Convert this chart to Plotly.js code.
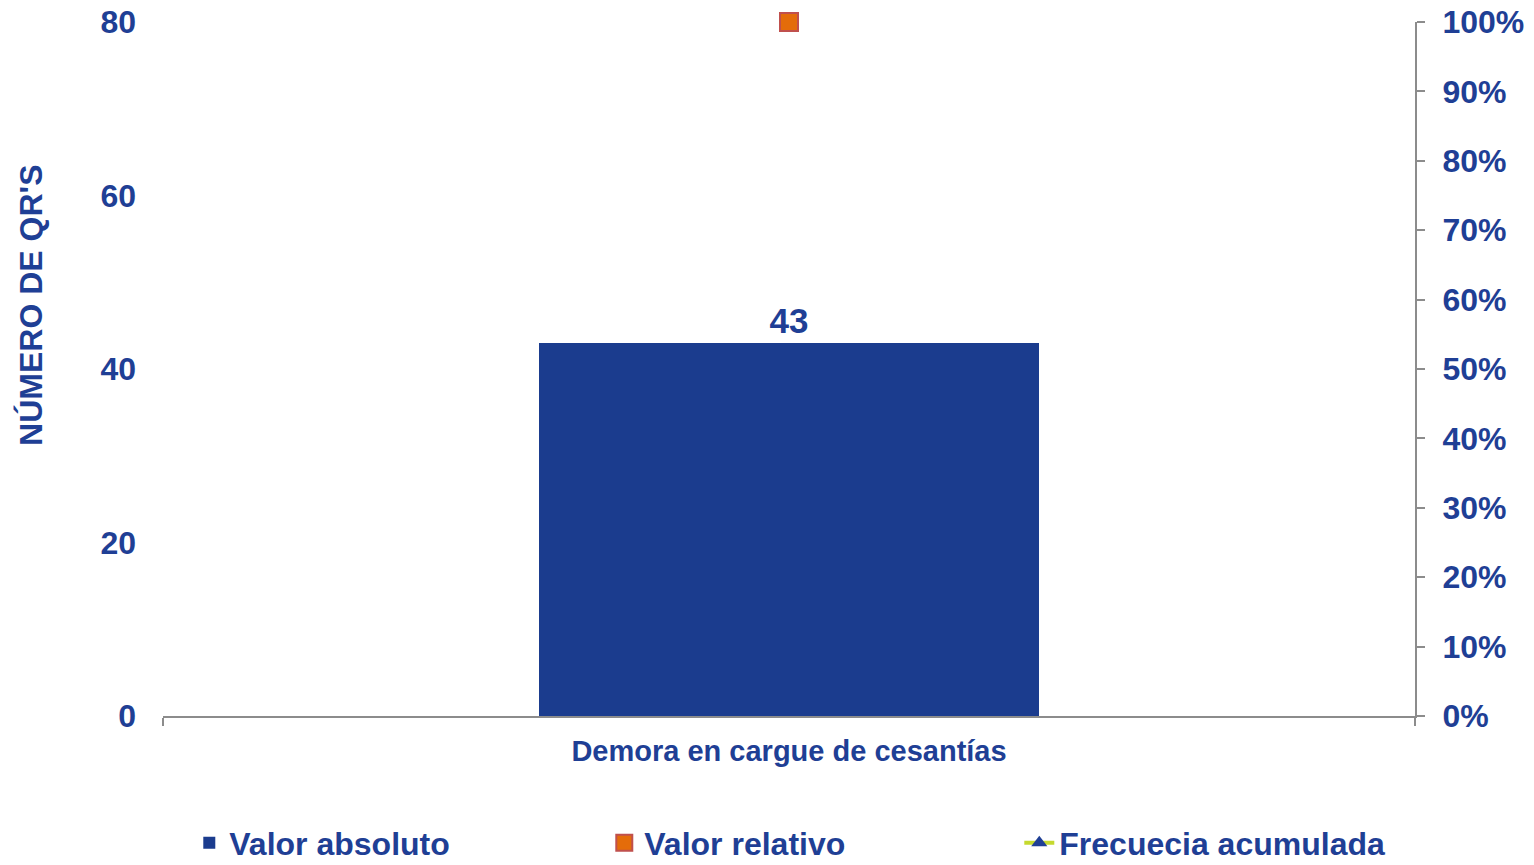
<!DOCTYPE html>
<html>
<head>
<meta charset="utf-8">
<script src="https://cdn.plot.ly/plotly-3.0.1.min.js"></script>
<style>html,body{margin:0;padding:0;background:#fff;}#chart{width:1534px;height:865px;}</style>
</head>
<body>
<div id="chart"></div>
<script>
const categories = ['Demora en cargue de cesantías'];
const valorAbsoluto = [43];
const valorRelativo = [1.0];
const frecuenciaAcumulada = [1.0];
const leftTicks = [0, 20, 40, 60, 80];
const yTitle = "NÚMERO DE QR'S";

const navy = '#1B3C8E';
const textBlue = '#1F3F95';
const font = 'Liberation Sans, Arial, sans-serif';

const traces = [
  {
    type: 'bar', name: 'Valor absoluto', x: categories, y: valorAbsoluto,
    marker: {color: navy}, width: 0.4,
    text: valorAbsoluto.map(String), textposition: 'outside', cliponaxis: false,
    textfont: {family: font, size: 35, color: textBlue, weight: 'bold'},
    legendrank: 1, yaxis: 'y'
  },
  {
    type: 'scatter', mode: 'lines+markers', name: 'Frecuecia acumulada', x: categories, y: frecuenciaAcumulada,
    line: {color: '#C5D92E', width: 4},
    marker: {symbol: 'triangle-up', size: 14, color: '#1F3F95', line: {color: '#1F3F95', width: 0}},
    yaxis: 'y2', legendrank: 3, cliponaxis: false
  },
  {
    type: 'scatter', mode: 'markers', name: 'Valor relativo', x: categories, y: valorRelativo,
    marker: {symbol: 'square', size: 18, color: '#E46C0A', line: {color: '#C0504D', width: 2}},
    yaxis: 'y2', legendrank: 2, cliponaxis: false
  }
];

const layout = {
  width: 1534, height: 865,
  margin: {l: 163, r: 119, t: 22, b: 149, autoexpand: false},
  paper_bgcolor: '#fff', plot_bgcolor: '#fff',
  font: {family: font, color: textBlue, size: 32, weight: 'bold'},
  showlegend: true,
  bargap: 0,
  xaxis: {
    type: 'category', range: [-0.5, 0.5],
    showline: true, linecolor: '#8C8C8C', linewidth: 2,
    ticks: 'outside', tickson: 'boundaries', ticklen: 8, tickcolor: '#8C8C8C', tickwidth: 2,
    tickfont: {family: font, size: 29, color: textBlue, weight: 'bold'},
    ticklabelstandoff: 8,
    showgrid: false, zeroline: false
  },
  yaxis: {
    range: [0, 80], tickvals: leftTicks, showline: false, ticks: '', showgrid: false, zeroline: false,
    tickfont: {family: font, size: 32, color: textBlue, weight: 'bold'},
    ticklabelstandoff: 26
  },
  yaxis2: {
    overlaying: 'y', side: 'right', range: [0, 1], dtick: 0.1, tickformat: '.0%',
    showline: true, linecolor: '#8C8C8C', linewidth: 2,
    ticks: 'outside', ticklen: 8, tickcolor: '#8C8C8C', tickwidth: 2,
    ticklabelstandoff: 11,
    showgrid: false, zeroline: false,
    tickfont: {family: font, size: 32, color: textBlue, weight: 'bold'}
  },
  annotations: [{
    text: yTitle, textangle: -90, showarrow: false,
    xref: 'paper', yref: 'paper', x: -0.1054, y: 0.591, xanchor: 'center', yanchor: 'middle',
    font: {family: font, size: 32, color: textBlue, weight: 'bold'}
  }],
  legend: {
    orientation: 'h', x: 0.021, xanchor: 'left', y: -0.183, yanchor: 'middle',
    font: {family: font, size: 32, color: textBlue, weight: 'bold'},
    entrywidth: 370, traceorder: 'normal'
  }
};

Plotly.newPlot('chart', traces, layout, {displayModeBar: false});
</script>
</body>
</html>
